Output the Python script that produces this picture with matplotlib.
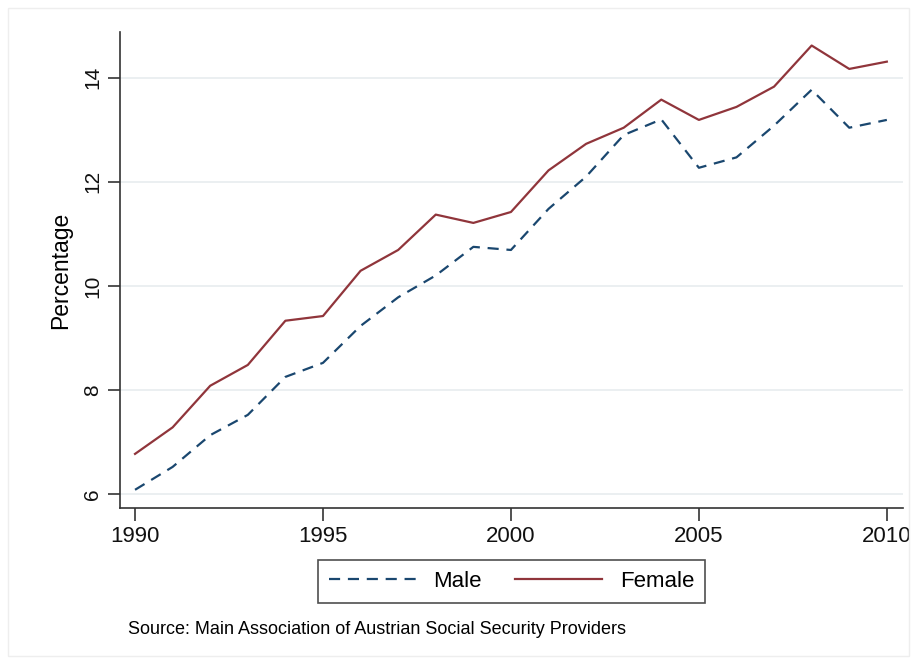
import matplotlib.pyplot as plt
from matplotlib.patches import Rectangle

years = list(range(1990, 2011))
male = [6.08, 6.52, 7.13, 7.52, 8.25, 8.52, 9.23, 9.78, 10.20, 10.75, 10.69,
        11.48, 12.10, 12.90, 13.20, 12.27, 12.47, 13.08, 13.77, 13.04, 13.19]
female = [6.77, 7.28, 8.08, 8.48, 9.33, 9.42, 10.29, 10.69, 11.37, 11.21, 11.42,
          12.22, 12.73, 13.04, 13.58, 13.19, 13.44, 13.83, 14.62, 14.17, 14.31]
x_ticks = [1990, 1995, 2000, 2005, 2010]
y_ticks = [6, 8, 10, 12, 14]
source = "Source: Main Association of Austrian Social Security Providers"

plt.rcParams["font.family"] = ["Liberation Sans", "DejaVu Sans"]

W, H = 917, 664
fig = plt.figure(figsize=(W / 100, H / 100), dpi=100)

# faint outer frame like the Stata graph region
fig.patches.append(Rectangle((8 / W, 8 / H), (W - 16) / W, (H - 16) / H,
                             transform=fig.transFigure, fill=False,
                             edgecolor="#eeeeee", linewidth=1))

ax = fig.add_axes([120 / W, 1 - 508 / H, (903 - 120) / W, (508 - 32) / H])
ax.plot(years, male, color="#1a476f", linestyle=(0, (5, 3.5)), linewidth=1.6, label="Male")
ax.plot(years, female, color="#90353b", linewidth=1.6, label="Female")

ax.set_xlim(1989.6, 2010.43)
ax.set_ylim(5.73, 14.88)
ax.set_xticks(x_ticks)
ax.set_yticks(y_ticks)
ax.grid(axis="y", color="#e8ecef", linewidth=1.2)
ax.set_axisbelow(True)
for s in ["top", "right"]:
    ax.spines[s].set_visible(False)
for s in ["left", "bottom"]:
    ax.spines[s].set_color("#333333")
    ax.spines[s].set_linewidth(1.2)
ax.tick_params(axis="both", direction="out", length=9, width=1.2, color="#333333",
               labelsize=16, pad=4, labelcolor="#111111")
ax.tick_params(axis="y", labelsize=15)
for lab in ax.get_yticklabels():
    lab.set_rotation(90)
    lab.set_va("center")
ax.set_ylabel("Percentage", fontsize=16.5, labelpad=8)

leg = ax.legend(loc="upper center", bbox_to_anchor=(0.5, -0.085), ncol=2,
                fontsize=16, frameon=True, fancybox=False, handlelength=3.9,
                columnspacing=1.5, borderpad=0.5, handletextpad=0.8)
leg.get_frame().set_edgecolor("#222222")
leg.get_frame().set_linewidth(1.2)

fig.text(128 / W, 1 - 630 / H, source, fontsize=13, va="center", ha="left")

fig.savefig("out.png", dpi=100)
